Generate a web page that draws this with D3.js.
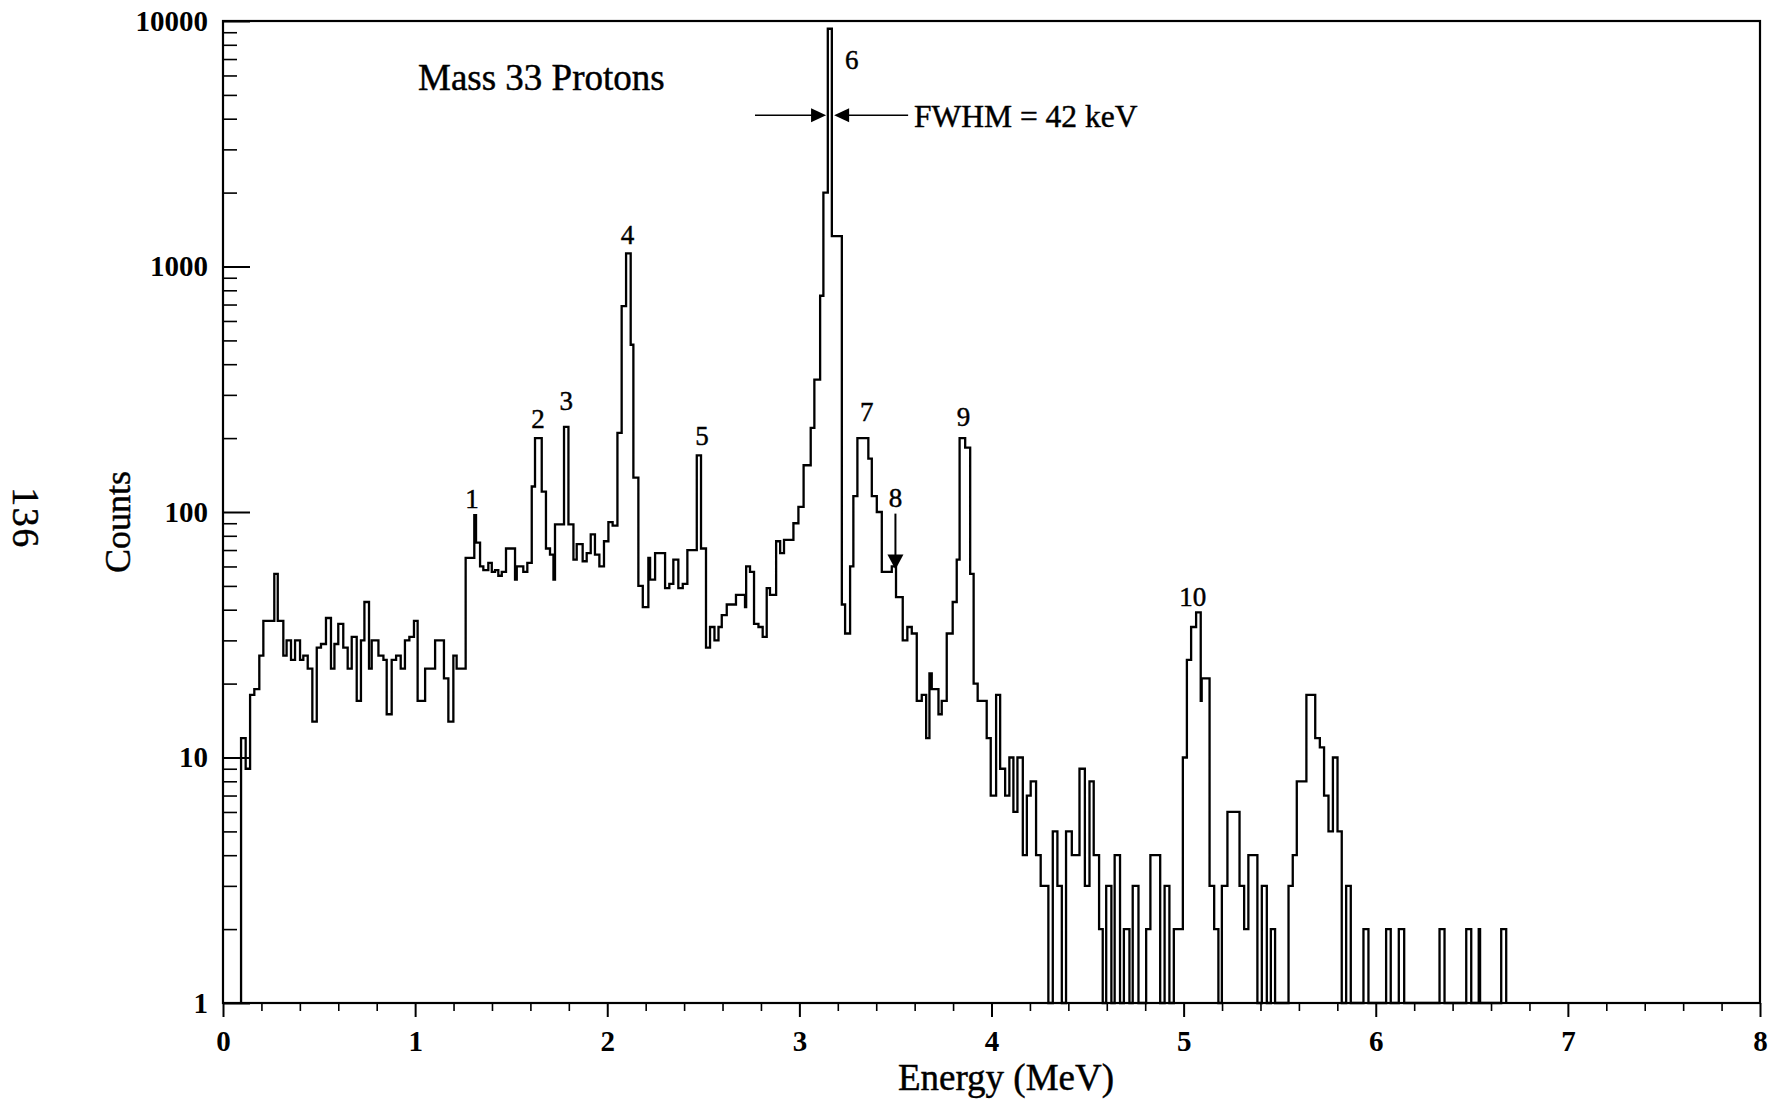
<!DOCTYPE html>
<html>
<head>
<meta charset="utf-8">
<script src="https://cdn.jsdelivr.net/npm/d3@7"></script>
<style>
  html, body { margin: 0; padding: 0; background: #fff; }
  svg { display: block; }
  text { font-family: "Liberation Serif", "Times New Roman", serif; fill: #000; }
  .heavy { stroke: #000; stroke-width: 0.45px; }
</style>
</head>
<body>
<svg id="chart" width="1780" height="1102"></svg>
<script>
// Proton spectrum, mass 33: each step starts at an energy (MeV) and holds a count until the next step.
const stepStartMeV = [
  0.094, 0.118, 0.141, 0.163, 0.189, 0.210, 0.267, 0.285, 0.314, 0.331,
  0.354, 0.375, 0.401, 0.418, 0.441, 0.465, 0.488, 0.510, 0.536, 0.562,
  0.580, 0.600, 0.626, 0.649, 0.670, 0.696, 0.718, 0.736, 0.760, 0.774,
  0.809, 0.835, 0.852, 0.878, 0.901, 0.925, 0.947, 0.970, 0.994, 1.013,
  1.052, 1.104, 1.150, 1.173, 1.199, 1.216, 1.263, 1.308, 1.317, 1.338,
  1.355, 1.381, 1.399, 1.416, 1.433, 1.451, 1.473, 1.520, 1.529, 1.563,
  1.584, 1.607, 1.624, 1.659, 1.681, 1.702, 1.720, 1.728, 1.775, 1.798,
  1.824, 1.841, 1.872, 1.893, 1.914, 1.936, 1.959, 1.983, 2.006, 2.028,
  2.053, 2.075, 2.098, 2.122, 2.136, 2.162, 2.185, 2.214, 2.223, 2.249,
  2.301, 2.323, 2.344, 2.370, 2.393, 2.417, 2.466, 2.488, 2.514, 2.535,
  2.558, 2.579, 2.596, 2.622, 2.670, 2.717, 2.723, 2.743, 2.764, 2.787,
  2.809, 2.830, 2.847, 2.879, 2.900, 2.920, 2.969, 2.995, 3.022, 3.059,
  3.078, 3.108, 3.125, 3.148, 3.169, 3.221, 3.238, 3.264, 3.281, 3.302,
  3.359, 3.377, 3.403, 3.429, 3.481, 3.503, 3.538, 3.562, 3.585, 3.611,
  3.637, 3.660, 3.677, 3.689, 3.724, 3.741, 3.767, 3.798, 3.819, 3.834,
  3.863, 3.889, 3.907, 3.928, 3.975, 3.996, 4.024, 4.045, 4.071, 4.093,
  4.114, 4.135, 4.163, 4.184, 4.204, 4.232, 4.256, 4.296, 4.319, 4.343,
  4.366, 4.388, 4.418, 4.458, 4.486, 4.510, 4.532, 4.560, 4.579, 4.597,
  4.624, 4.641, 4.669, 4.689, 4.718, 4.735, 4.765, 4.805, 4.827, 4.878,
  4.901, 4.926, 4.949, 4.996, 5.017, 5.039, 5.065, 5.089, 5.094, 5.135,
  5.159, 5.181, 5.199, 5.228, 5.291, 5.315, 5.337, 5.384, 5.407, 5.433,
  5.454, 5.476, 5.546, 5.568, 5.589, 5.639, 5.685, 5.709, 5.731, 5.754,
  5.777, 5.801, 5.823, 5.846, 5.870, 5.936, 5.962, 6.054, 6.078, 6.120,
  6.148, 6.332, 6.358, 6.471, 6.497, 6.536, 6.543, 6.653
];
const stepCounts = [
  12, 9, 18, 19, 26, 36, 56, 36, 26, 30,
  25, 30, 25, 26, 23, 14, 28, 29, 37, 23,
  29, 35, 28, 23, 31, 17, 30, 43, 23, 30,
  26, 25, 15, 25, 26, 23, 30, 31, 36, 17,
  23, 30, 21, 14, 26, 23, 65, 97, 75, 60,
  58, 62, 57, 58, 55, 57, 71, 53, 60, 57,
  62, 127, 200, 121, 71, 67, 53, 89, 222, 89,
  64, 74, 63, 68, 81, 67, 60, 76, 91, 88,
  210, 690, 1130, 480, 138, 50, 41, 65, 53, 68,
  49, 51, 64, 49, 51, 70, 170, 71, 28, 34,
  30, 34, 38, 42, 46, 41, 60, 57, 35, 34,
  31, 49, 46, 76, 68, 77, 90, 105, 155, 220,
  346, 760, 2000, 9300, 1330, 42, 32, 60, 116, 200,
  165, 116, 100, 57, 60, 45, 30, 34, 32, 17,
  18, 12, 22, 19, 15, 17, 32, 43, 64, 200,
  183, 56, 20, 17, 12, 7, 18, 9, 7, 10,
  6, 10, 4, 7, 8, 4, 3, 0, 5, 3,
  0, 5, 4, 9, 3, 8, 4, 2, 0, 3,
  0, 4, 0, 2, 0, 3, 0, 2, 4, 0,
  3, 0, 2, 10, 25, 34, 39, 17, 21, 3,
  2, 0, 3, 6, 3, 2, 4, 0, 3, 0,
  2, 0, 3, 4, 8, 18, 12, 11, 7, 5,
  10, 5, 0, 3, 0, 2, 0, 2, 0, 2,
  0, 2, 0, 2, 0, 2, 0, 2
];
const spectrumEndMeV = 6.679;

// Axes
const energyTicks = [0, 1, 2, 3, 4, 5, 6, 7, 8];
const countTicks = [1, 10, 100, 1000, 10000];

// Peak numbering, placed in data coordinates (energy, count at the label baseline)
const peakNames = ["1", "2", "3", "4", "5", "6", "7", "8", "9", "10"];
const peakLabelMeV = [1.296, 1.640, 1.786, 2.106, 2.493, 3.273, 3.351, 3.500, 3.854, 5.047];
const peakLabelCount = [104, 219, 260, 1231, 188, 6362, 234, 105, 225, 41.5];

// Resolution marker around the main line
const fwhmEdgesMeV = [3.139, 3.181];
const fwhmCount = 4130;

const svg = d3.select("#chart");
const W = 1780, H = 1102;
const margin = { left: 223, right: 20, top: 21, bottom: 99 };
const x0 = margin.left, x1 = W - margin.right;
const y0 = H - margin.bottom, y1 = margin.top;

const x = d3.scaleLinear().domain([0, 8]).range([x0, x1]);
const y = d3.scaleLog().domain([1, 10000]).range([y0, y1]).clamp(true);

// Minor tick values
const minorEnergy = d3.range(0, 8.0001, 0.2).filter(v => Math.abs(v - Math.round(v)) > 1e-6);
const minorCounts = [];
[1, 10, 100, 1000].forEach(d => { for (let k = 2; k <= 9; k++) minorCounts.push(d * k); });

// Y axis: ticks point into the plot, labels to the left
const yMajor = d3.axisLeft(y).tickValues(countTicks).tickFormat(d3.format("d"))
  .tickSizeInner(-27).tickSizeOuter(0).tickPadding(15);
const gy = svg.append("g").attr("transform", `translate(${x0},0)`).call(yMajor);
gy.select(".domain").remove();
gy.selectAll("line").attr("stroke", "#000").attr("stroke-width", 2);
gy.selectAll("text").attr("font-size", 29).attr("font-weight", "bold")
  .attr("font-family", "'Liberation Serif', serif");

const yMinor = d3.axisLeft(y).tickValues(minorCounts).tickFormat("")
  .tickSizeInner(-14).tickSizeOuter(0);
const gym = svg.append("g").attr("transform", `translate(${x0},0)`).call(yMinor);
gym.select(".domain").remove();
gym.selectAll("line").attr("stroke", "#000").attr("stroke-width", 1.6);

// X axis: ticks point outward below the frame
const xMajor = d3.axisBottom(x).tickValues(energyTicks).tickFormat(d3.format("d"))
  .tickSizeInner(14).tickSizeOuter(0).tickPadding(13);
const gx = svg.append("g").attr("transform", `translate(0,${y0})`).call(xMajor);
gx.select(".domain").remove();
gx.selectAll("line").attr("stroke", "#000").attr("stroke-width", 2);
gx.selectAll("text").attr("font-size", 29).attr("font-weight", "bold")
  .attr("font-family", "'Liberation Serif', serif");

const xMinor = d3.axisBottom(x).tickValues(minorEnergy).tickFormat("")
  .tickSizeInner(8).tickSizeOuter(0);
const gxm = svg.append("g").attr("transform", `translate(0,${y0})`).call(xMinor);
gxm.select(".domain").remove();
gxm.selectAll("line").attr("stroke", "#000").attr("stroke-width", 1.6);

// Frame
svg.append("rect")
  .attr("x", x0).attr("y", y1).attr("width", x1 - x0).attr("height", y0 - y1)
  .attr("fill", "none").attr("stroke", "#000").attr("stroke-width", 2.2);

// Spectrum as a step line
const pts = [[stepStartMeV[0], 0]];
stepStartMeV.forEach((e, i) => pts.push([e, stepCounts[i]]));
pts.push([spectrumEndMeV, 0]);
const stepLine = d3.line().x(d => x(d[0])).y(d => y(d[1])).curve(d3.curveStepAfter);
svg.append("path").datum(pts)
  .attr("d", stepLine)
  .attr("fill", "none").attr("stroke", "#000").attr("stroke-width", 2.3)
  .attr("stroke-linejoin", "miter");

// Peak labels
svg.append("g").selectAll("text").data(peakNames).join("text")
  .attr("class", "heavy")
  .attr("x", (d, i) => x(peakLabelMeV[i]))
  .attr("y", (d, i) => y(peakLabelCount[i]))
  .attr("text-anchor", "middle")
  .attr("font-size", 27)
  .text(d => d);

// Arrow pointing down onto peak 8
const a8x = x(3.5), a8top = y(98.5), a8tip = y(58.3);
svg.append("line").attr("x1", a8x).attr("x2", a8x).attr("y1", a8top).attr("y2", a8tip - 12)
  .attr("stroke", "#000").attr("stroke-width", 2);
svg.append("path")
  .attr("d", `M${a8x - 8},${a8tip - 15} L${a8x + 8},${a8tip - 15} L${a8x},${a8tip} Z`)
  .attr("fill", "#000");

// FWHM arrows
const fy = y(fwhmCount);
const fl = x(fwhmEdgesMeV[0]), fr = x(fwhmEdgesMeV[1]);
svg.append("line").attr("x1", x(2.769)).attr("x2", fl - 12).attr("y1", fy).attr("y2", fy)
  .attr("stroke", "#000").attr("stroke-width", 1.6);
svg.append("path").attr("d", `M${fl - 15},${fy - 7} L${fl},${fy} L${fl - 15},${fy + 7} Z`).attr("fill", "#000");
svg.append("line").attr("x1", fr + 12).attr("x2", x(3.566)).attr("y1", fy).attr("y2", fy)
  .attr("stroke", "#000").attr("stroke-width", 1.6);
svg.append("path").attr("d", `M${fr + 15},${fy - 7} L${fr},${fy} L${fr + 15},${fy + 7} Z`).attr("fill", "#000");
svg.append("text").attr("class", "heavy").attr("x", x(3.597)).attr("y", y(3690))
  .attr("font-size", 31.5).text("FWHM = 42 keV");

// Title inside the plot
svg.append("text").attr("class", "heavy").attr("x", x(1.015)).attr("y", y(5224))
  .attr("font-size", 37).text("Mass 33 Protons");

// Axis titles
svg.append("text").attr("class", "heavy").attr("x", 1006).attr("y", 1090)
  .attr("text-anchor", "middle").attr("font-size", 37).text("Energy (MeV)");
svg.append("text").attr("class", "heavy").attr("transform", `translate(130,522) rotate(-90)`)
  .attr("text-anchor", "middle").attr("font-size", 36).text("Counts");

// Page number
svg.append("text").attr("class", "heavy").attr("transform", `translate(13,518) rotate(90)`)
  .attr("text-anchor", "middle").attr("font-size", 38).attr("letter-spacing", 1.5).text("136");
</script>
</body>
</html>
